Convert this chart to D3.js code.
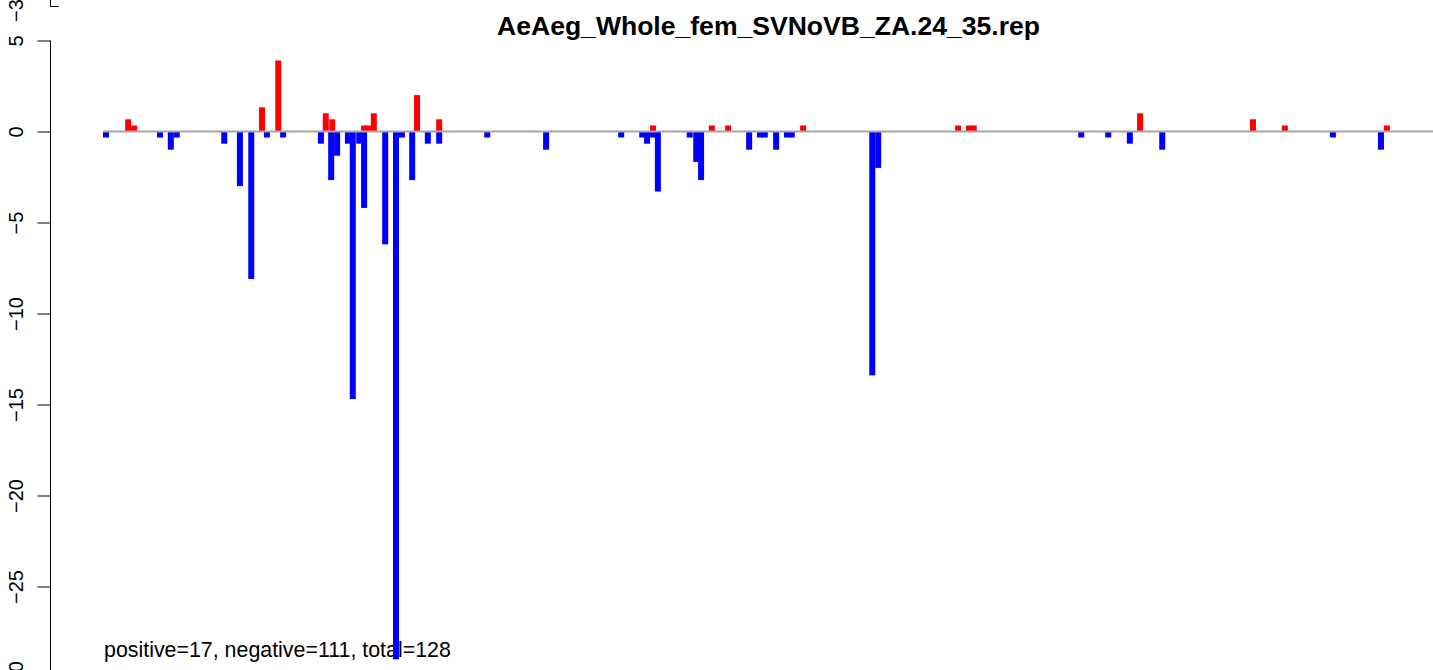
<!DOCTYPE html>
<html><head><meta charset="utf-8">
<script src="https://cdn.jsdelivr.net/npm/d3@7"></script>
<style>body{margin:0;background:#fff}svg{display:block}text{font-family:"Liberation Sans",Arial,Helvetica,sans-serif}</style>
</head><body>
<script>
const title = "AeAeg_Whole_fem_SVNoVB_ZA.24_35.rep";
const footer = "positive=17, negative=111, total=128";
const yTicks = [5, 0, -5, -10, -15, -20, -25, -30];

// negative (blue) bars: position, value
const negPos = [0.0,10.0,12.0,13.1,21.9,24.8,26.9,29.8,32.8,39.8,41.7,42.8,44.8,45.7,46.9,47.8,51.7,53.7,54.8,56.7,59.6,61.7,70.6,81.5,95.4,99.3,100.2,101.3,102.2,108.1,109.3,110.2,119.1,121.1,122.0,124.1,126.1,127.0,141.9,143.0,180.6,185.6,189.6,195.6,227.2,236.1];
const negVal = [-0.33,-0.33,-1,-0.33,-0.67,-3,-8.1,-0.33,-0.33,-0.67,-2.67,-1.33,-0.67,-14.7,-0.67,-4.2,-6.2,-29,-0.33,-2.67,-0.67,-0.67,-0.33,-1,-0.33,-0.33,-0.67,-0.33,-3.3,-0.33,-1.67,-2.67,-1,-0.33,-0.33,-1,-0.33,-0.33,-13.4,-2,-0.33,-0.33,-0.67,-1,-0.33,-1];
// positive (red) bars
const posPos = [4.1,5.2,28.9,31.9,40.7,41.9,47.8,48.5,49.6,57.6,61.7,101.3,112.2,115.2,129.1,157.8,159.8,160.7,191.5,212.4,218.3,237.2];
const posVal = [0.67,0.33,1.33,3.9,1,0.67,0.33,0.33,1,2,0.67,0.33,0.33,0.33,0.33,0.33,0.33,0.33,1,0.67,0.33,0.33];

const W = 1433, H = 670;
const svg = d3.select("body").append("svg").attr("width", W).attr("height", H);

const x = d3.scaleLinear().domain([0, 246]).range([103, 103 + 5.4 * 246]);
const y = d3.scaleLinear().domain([-30, 5]).range([677.5, 40.5]);
const barW = 6;

// footer text (drawn beneath bars)
const ft = svg.append("text").attr("x", 104).attr("y", 657).attr("font-size", 20).attr("fill", "#000").text(footer);
{ const w = ft.node().getComputedTextLength(); ft.attr("font-size", 20 * 347 / w); }

// title
const tt = svg.append("text").attr("x", 768.5).attr("y", 35).attr("text-anchor", "middle")
  .attr("font-weight", "bold").attr("font-size", 22).attr("fill", "#000").text(title);
{ const w = tt.node().getComputedTextLength(); tt.attr("font-size", 22 * 543 / w); }

// bars
const neg = negPos.map((p, i) => ({p, v: negVal[i]}));
const pos = posPos.map((p, i) => ({p, v: posVal[i]}));
svg.append("g").selectAll("rect").data(neg).join("rect")
  .attr("x", d => x(d.p)).attr("width", barW)
  .attr("y", y(0)).attr("height", d => y(d.v) - y(0)).attr("fill", "#0000ff");
svg.append("g").selectAll("rect").data(pos).join("rect")
  .attr("x", d => x(d.p)).attr("width", barW)
  .attr("y", d => y(d.v)).attr("height", d => y(0) - y(d.v)).attr("fill", "#ff0000");

// zero line
svg.append("line").attr("x1", 103).attr("x2", W).attr("y1", y(0)).attr("y2", y(0))
  .attr("stroke", "#a6a6a6").attr("stroke-width", 2);

// y axis
const ax = svg.append("g").attr("transform", "translate(50.5,0)")
  .call(d3.axisLeft(y).tickValues(yTicks).tickSize(13).tickFormat(d => d < 0 ? "\u2212" + Math.abs(d) : d));
ax.select(".domain").attr("d", `M0,${y(5)}V${y(-30)}`).attr("stroke", "#000");
ax.selectAll(".tick line").attr("stroke", "#000");
ax.selectAll(".tick text").attr("font-size", 20).attr("font-family", "Liberation Sans, Arial, sans-serif")
  .attr("fill", "#000").attr("x", null).attr("dy", null)
  .attr("text-anchor", "middle").attr("dominant-baseline", "central")
  .attr("transform", "translate(-35,0) rotate(-90)");

// fragment of the panel above
svg.append("path").attr("d", "M50.5,0V6.5H59").attr("fill", "none").attr("stroke", "#000");
svg.append("text").attr("transform", "translate(15.5,5) rotate(-90)").attr("text-anchor", "middle")
  .attr("dominant-baseline", "central").attr("font-size", 20).attr("fill", "#000").text("\u221230");
</script>
</body></html>
